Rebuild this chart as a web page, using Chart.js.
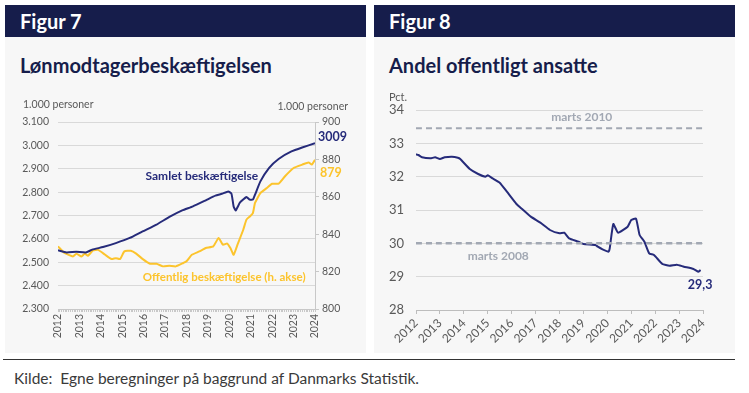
<!DOCTYPE html>
<html>
<head>
<meta charset="utf-8">
<script src="https://cdn.jsdelivr.net/npm/chart.js@4/dist/chart.umd.min.js"></script>
<style>
body { margin: 0; background: #fff; font-family: Lato, "Open Sans", sans-serif; width: 749px; height: 393px; position: relative; overflow: hidden; }
.panel { position: absolute; top: 5px; width: 361px; height: 348px; background: #f7f7f7; }
.head { height: 32px; background: #161d4b; color: #fff; font-weight: bold; font-size: 20px; line-height: 32px; padding-left: 15px; }
.title { position: absolute; left: 15px; top: 48px; color: #161d4b; font-weight: bold; font-size: 20px; line-height: 24px; }
canvas { position: absolute; }
.rule { position: absolute; left: 3px; top: 359px; width: 732px; height: 0; border-top: 1.5px solid #333; }
.source { position: absolute; left: 14px; top: 369px; font-size: 15.5px; color: #3a3a3a; }
</style>
</head>
<body>
<div class="panel" style="left:5px"><div class="head">Figur 7</div><div class="title">Lønmodtagerbeskæftigelsen</div></div>
<div class="panel" style="left:374px"><div class="head">Figur 8</div><div class="title">Andel offentligt ansatte</div></div>
<canvas id="fig7" width="361" height="263" style="left:5px; top:90px"></canvas>
<canvas id="fig8" width="361" height="268" style="left:374px; top:85px"></canvas>
<div class="rule"></div>
<div class="source">Kilde:&nbsp; Egne beregninger på baggrund af Danmarks Statistik.</div>
<script>
// Figur 7: samlet beskæftigelse (venstre akse) og offentlig beskæftigelse (højre akse), 1.000 personer
const samletX = [2012.0, 2012.4, 2012.85, 2013.3, 2013.6, 2014.1, 2014.7, 2015.35, 2015.95, 2016.6, 2017.2, 2017.8,
    2018.3, 2018.9, 2019.35, 2019.65, 2019.95, 2020.1, 2020.2, 2020.3, 2020.5, 2020.8, 2020.95, 2021.1, 2021.2,
    2021.45, 2021.85, 2022.3, 2022.9, 2023.4, 2024.0];
const samletY = [2551, 2542, 2545, 2542, 2554, 2565, 2582, 2604, 2632, 2661, 2694, 2722,
    2739, 2765, 2785, 2793, 2803, 2793, 2739, 2722, 2756, 2779, 2768, 2768, 2789,
    2846, 2903, 2942, 2974, 2991, 3009];

const offentligX = [2012.0, 2012.3, 2012.7, 2012.86, 2013.1, 2013.25, 2013.4, 2013.63, 2013.87, 2014.2, 2014.5, 2014.7,
    2014.9, 2015.1, 2015.4, 2015.65, 2015.96, 2016.3, 2016.6, 2016.9, 2017.2, 2017.5, 2017.85, 2018.0, 2018.25,
    2018.6, 2018.9, 2019.25, 2019.5, 2019.7, 2019.9, 2020.05, 2020.2, 2020.4, 2020.65, 2020.8, 2020.96, 2021.1,
    2021.2, 2021.45, 2021.75, 2022.0, 2022.3, 2022.6, 2023.0, 2023.4, 2023.7, 2023.85, 2024.0];
const offentligY = [833.5, 830, 828.1, 829.6, 828.1, 829.6, 828.5, 831.3, 831.6, 829, 826.7, 827.2,
    826.7, 830.8, 831.1, 829.6, 826.7, 824.2, 824.2, 822.8, 823.1, 822.8, 824.6, 825.5, 829,
    830.8, 832.6, 833.5, 838, 834.4, 835, 832.6, 829, 835, 842.4, 847.8, 849.5, 851.3,
    856.7, 862, 864.7, 867, 867, 871, 875.4, 877.2, 878.4, 877.2, 879.8];

// Figur 8: andel offentligt ansatte, pct.
const andelX = [2012.0, 2012.1, 2012.25, 2012.6, 2012.8, 2013.0, 2013.2, 2013.5, 2013.75, 2013.85, 2014.25, 2014.6,
    2014.9, 2015.0, 2015.2, 2015.5, 2015.8, 2016.2, 2016.45, 2016.8, 2017.2, 2017.6, 2018.0, 2018.2, 2018.4,
    2018.8, 2019.0, 2019.5, 2019.6, 2019.8, 2020.05, 2020.1, 2020.25, 2020.45, 2020.85, 2021.0, 2021.2, 2021.35,
    2021.55, 2021.75, 2021.95, 2022.3, 2022.6, 2022.9, 2023.2, 2023.6, 2023.8, 2023.9];
const andelY = [32.67, 32.65, 32.58, 32.55, 32.58, 32.53, 32.58, 32.6, 32.57, 32.53, 32.23, 32.08,
    32.0, 32.04, 31.95, 31.82, 31.55, 31.18, 31.02, 30.8, 30.62, 30.4, 30.3, 30.32, 30.15,
    30.05, 29.98, 29.95, 29.9, 29.82, 29.75, 29.85, 30.58, 30.32, 30.5, 30.7, 30.74, 30.25,
    30.05, 29.7, 29.65, 29.38, 29.33, 29.36, 29.3, 29.23, 29.15, 29.2];
const marts2010 = 33.45;
const marts2008 = 30.0;
const yearRange = [2012, 2024];

const navy = '#262b7a';
const yellow = '#fcc42d';
const refGray = '#a2a8b3';
const tickColor = '#595959';
const gridColor = '#d9d9d9';

function points(xs, ys) {
    return xs.map((x, i) => ({ x: x, y: ys[i] }));
}

function thousands(v) {
    return Math.floor(v / 1000) + '.' + String(v % 1000).padStart(3, '0');
}

// draws free text; positions in data units (xv/yv on given axis) or pixels relative to chart area
const notesPlugin = {
    id: 'notes',
    afterDraw(chart, args, opts) {
        const ctx = chart.ctx;
        const area = chart.chartArea;
        (opts.items || []).forEach(it => {
            let x = it.xv !== undefined ? chart.scales.x.getPixelForValue(it.xv) : (it.side === 'right' ? area.right : area.left);
            let y = it.yv !== undefined ? chart.scales[it.axis || 'y'].getPixelForValue(it.yv) : area.top;
            x += it.dx || 0;
            y += it.dy || 0;
            ctx.save();
            ctx.font = it.font;
            ctx.fillStyle = it.color;
            ctx.textAlign = it.align || 'left';
            ctx.textBaseline = 'middle';
            ctx.fillText(it.text, x, y);
            ctx.restore();
        });
    }
};

Chart.defaults.font.family = 'Lato, "Open Sans", sans-serif';
Chart.defaults.color = tickColor;

new Chart(document.getElementById('fig7'), {
    type: 'line',
    data: {
        datasets: [
            { data: points(samletX, samletY), borderColor: navy, borderWidth: 2, yAxisID: 'y' },
            { data: points(offentligX, offentligY), borderColor: yellow, borderWidth: 2, yAxisID: 'y1' }
        ]
    },
    options: {
        responsive: false,
        animation: false,
        devicePixelRatio: 1,
        layout: { padding: { top: 32, left: 0, right: 0, bottom: 0 } },
        elements: { point: { radius: 0 }, line: { tension: 0.15 } },
        plugins: {
            legend: { display: false },
            tooltip: { enabled: false },
            notes: {
                items: [
                    { text: '1.000 personer', font: '10.5px Lato', color: tickColor, dx: -35, dy: -17 },
                    { text: '1.000 personer', font: '10.5px Lato', color: tickColor, side: 'right', align: 'right', dx: 33, dy: -15 },
                    { text: 'Samlet beskæftigelse', font: 'bold 12px Lato', color: navy, xv: 2021.35, yv: 2867, align: 'right' },
                    { text: '3009', font: 'bold 12.5px Lato', color: navy, xv: 2024, yv: 3036, dx: 3 },
                    { text: '879', font: 'bold 12.5px Lato', color: yellow, xv: 2024, axis: 'y1', yv: 873, dx: 5 },
                    { text: 'Offentlig beskæftigelse (h. akse)', font: 'bold 11.5px Lato', color: yellow, xv: 2019.76, axis: 'y1', yv: 817, align: 'center' }
                ]
            }
        },
        scales: {
            x: {
                type: 'linear',
                min: yearRange[0],
                max: yearRange[1],
                afterBuildTicks: s => {
                    const t = [];
                    for (let m = 0; m <= (yearRange[1] - yearRange[0]) * 12; m++) t.push({ value: yearRange[0] + m / 12 });
                    s.ticks = t;
                },
                afterFit: s => { s.height = 44; },
                ticks: {
                    autoSkip: false,
                    minRotation: 90,
                    maxRotation: 90,
                    padding: 2,
                    font: { size: 10.5 },
                    callback: v => Math.abs(v - Math.round(v)) < 1e-6 ? String(Math.round(v)) : ''
                },
                grid: { drawOnChartArea: false, tickLength: 3, color: '#c8c8c8' },
                border: { color: '#c8c8c8' }
            },
            y: {
                min: 2300,
                max: 3100,
                afterBuildTicks: s => {
                    const t = [];
                    for (let v = 2300; v <= 3100; v += 100) t.push({ value: v });
                    s.ticks = t;
                },
                afterFit: s => { s.width = 53; },
                ticks: { padding: 9, font: { size: 10.5 }, callback: v => thousands(v) },
                grid: { color: gridColor, drawTicks: false },
                border: { display: false }
            },
            y1: {
                position: 'right',
                min: 800,
                max: 900,
                afterBuildTicks: s => {
                    const t = [];
                    for (let v = 800; v <= 900; v += 20) t.push({ value: v });
                    s.ticks = t;
                },
                afterFit: s => { s.width = 51; },
                ticks: { padding: 3, font: { size: 10.5 } },
                grid: { drawOnChartArea: false, tickLength: 4, color: '#c8c8c8' },
                border: { color: '#c8c8c8' }
            }
        }
    },
    plugins: [notesPlugin]
});

new Chart(document.getElementById('fig8'), {
    type: 'line',
    data: {
        datasets: [
            { data: points(yearRange, [marts2010, marts2010]), borderColor: refGray, borderWidth: 2, borderDash: [6, 4] },
            { data: points(yearRange, [marts2008, marts2008]), borderColor: refGray, borderWidth: 2.5, borderDash: [6, 4] },
            { data: points(andelX, andelY), borderColor: navy, borderWidth: 2 }
        ]
    },
    options: {
        responsive: false,
        animation: false,
        devicePixelRatio: 1,
        layout: { padding: { top: 25, left: 0, right: 32, bottom: 0 } },
        elements: { point: { radius: 0 }, line: { tension: 0.15 } },
        plugins: {
            legend: { display: false },
            tooltip: { enabled: false },
            notes: {
                items: [
                    { text: 'Pct.', font: '11px Lato', color: tickColor, dx: -27, dy: -13 },
                    { text: 'marts 2010', font: 'bold 12px Lato', color: refGray, xv: 2018.93, yv: 33.78, align: 'center' },
                    { text: 'marts 2008', font: 'bold 12px Lato', color: refGray, xv: 2015.44, yv: 29.63, align: 'center' },
                    { text: '29,3', font: 'bold 12.5px Lato', color: navy, xv: 2023.88, yv: 28.75, align: 'center' }
                ]
            }
        },
        scales: {
            x: {
                type: 'linear',
                min: yearRange[0],
                max: yearRange[1],
                afterFit: s => { s.height = 43; },
                ticks: {
                    stepSize: 1,
                    autoSkip: false,
                    minRotation: 45,
                    maxRotation: 45,
                    padding: 2,
                    font: { size: 12 },
                    callback: v => String(v)
                },
                grid: { drawOnChartArea: false, tickLength: 4, color: '#bdbdbd' },
                border: { color: '#bdbdbd' }
            },
            y: {
                min: 28,
                max: 34,
                afterFit: s => { s.width = 42; },
                ticks: { stepSize: 1, padding: 12, font: { size: 13 } },
                grid: { color: gridColor, drawTicks: false },
                border: { display: false }
            }
        }
    },
    plugins: [notesPlugin]
});
</script>
</body>
</html>
